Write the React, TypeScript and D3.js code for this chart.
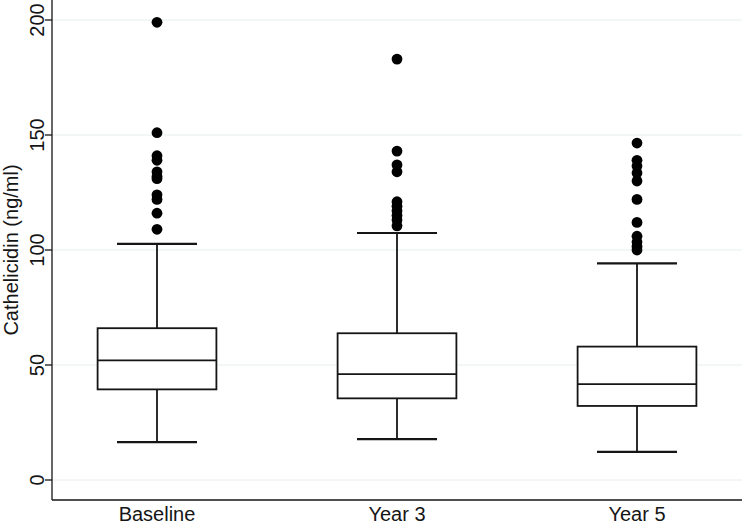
import React from 'react';
import * as d3 from 'd3';

// Box plot summary
const categories = ['Baseline', 'Year 3', 'Year 5'];
const q1 = [39.4, 35.5, 32.2];
const medians = [52, 46, 41.7];
const q3 = [66, 63.8, 58];
const whiskerLow = [16.5, 17.8, 12.2];
const whiskerHigh = [102.7, 107.4, 94.2];

const outliersBaseline = [199, 151, 141, 139, 134, 132, 131, 124, 122, 116, 109];
const outliersYear3 = [183, 143, 137, 134, 121, 119, 117, 115, 113, 110.5];
const outliersYear5 = [146.5, 139, 136.5, 133.5, 130, 122, 112, 106, 103.5, 101.5, 100];
const outliers = [outliersBaseline, outliersYear3, outliersYear5];

const yTicks = [0, 50, 100, 150, 200];
const yLabel = 'Cathelicidin (ng/ml)';

const width = 742;
const height = 527;
const margin = { top: 0, right: 0, bottom: 27, left: 52 };
const font = '"Liberation Sans", Arial, sans-serif';
const ink = '#151515';
const gridColor = '#e6eeee';

export default function App() {
  const x = d3
    .scalePoint<string>()
    .domain(categories)
    .range([margin.left, width - margin.right])
    .padding(0.4375);

  const y = d3.scaleLinear().domain([0, 200]).range([480, 20]);

  const axisY = height - margin.bottom; // bottom axis line
  const step = x.step();
  const boxW = step * 0.495;
  const capW = step / 3;

  return (
    <svg
      width={width}
      height={height}
      style={{ position: 'absolute', left: 0, top: 0, background: '#fff' }}
      fontFamily={font}
    >
      {/* grid */}
      {yTicks.map((t) => (
        <line
          key={`g-${t}`}
          x1={margin.left}
          x2={width - margin.right}
          y1={y(t)}
          y2={y(t)}
          stroke={gridColor}
          strokeWidth={1}
        />
      ))}

      {/* boxes */}
      {categories.map((c, i) => {
        const cx = x(c)!;
        return (
          <g key={c} stroke={ink} strokeWidth={1.8} fill="none">
            <line x1={cx} x2={cx} y1={y(whiskerHigh[i])} y2={y(q3[i])} />
            <line x1={cx} x2={cx} y1={y(q1[i])} y2={y(whiskerLow[i])} />
            <line x1={cx - capW / 2} x2={cx + capW / 2} y1={y(whiskerHigh[i])} y2={y(whiskerHigh[i])} strokeWidth={2.2} />
            <line x1={cx - capW / 2} x2={cx + capW / 2} y1={y(whiskerLow[i])} y2={y(whiskerLow[i])} strokeWidth={2.2} />
            <rect
              x={cx - boxW / 2}
              y={y(q3[i])}
              width={boxW}
              height={y(q1[i]) - y(q3[i])}
              fill="#fff"
            />
            <line x1={cx - boxW / 2} x2={cx + boxW / 2} y1={y(medians[i])} y2={y(medians[i])} />
            {outliers[i].map((v, j) => (
              <circle key={j} cx={cx} cy={y(v)} r={5.4} fill="#000" stroke="none" />
            ))}
          </g>
        );
      })}

      {/* axes */}
      <line x1={margin.left} x2={margin.left} y1={0} y2={axisY} stroke={ink} strokeWidth={1.3} />
      <line x1={margin.left} x2={width} y1={axisY} y2={axisY} stroke={ink} strokeWidth={1.3} />
      {yTicks.map((t) => (
        <g key={`t-${t}`}>
          <line x1={margin.left - 7} x2={margin.left} y1={y(t)} y2={y(t)} stroke={ink} strokeWidth={1.3} />
          <text
            transform={`translate(44,${y(t)}) rotate(-90)`}
            textAnchor="middle"
            fontSize={20}
            fill={ink}
          >
            {t}
          </text>
        </g>
      ))}
      <text
        transform={`translate(18,${y(100)}) rotate(-90)`}
        textAnchor="middle"
        fontSize={20}
        fill={ink}
      >
        {yLabel}
      </text>
      {categories.map((c) => (
        <text key={`x-${c}`} x={x(c)} y={521} textAnchor="middle" fontSize={20} fill={ink}>
          {c}
        </text>
      ))}
    </svg>
  );
}
